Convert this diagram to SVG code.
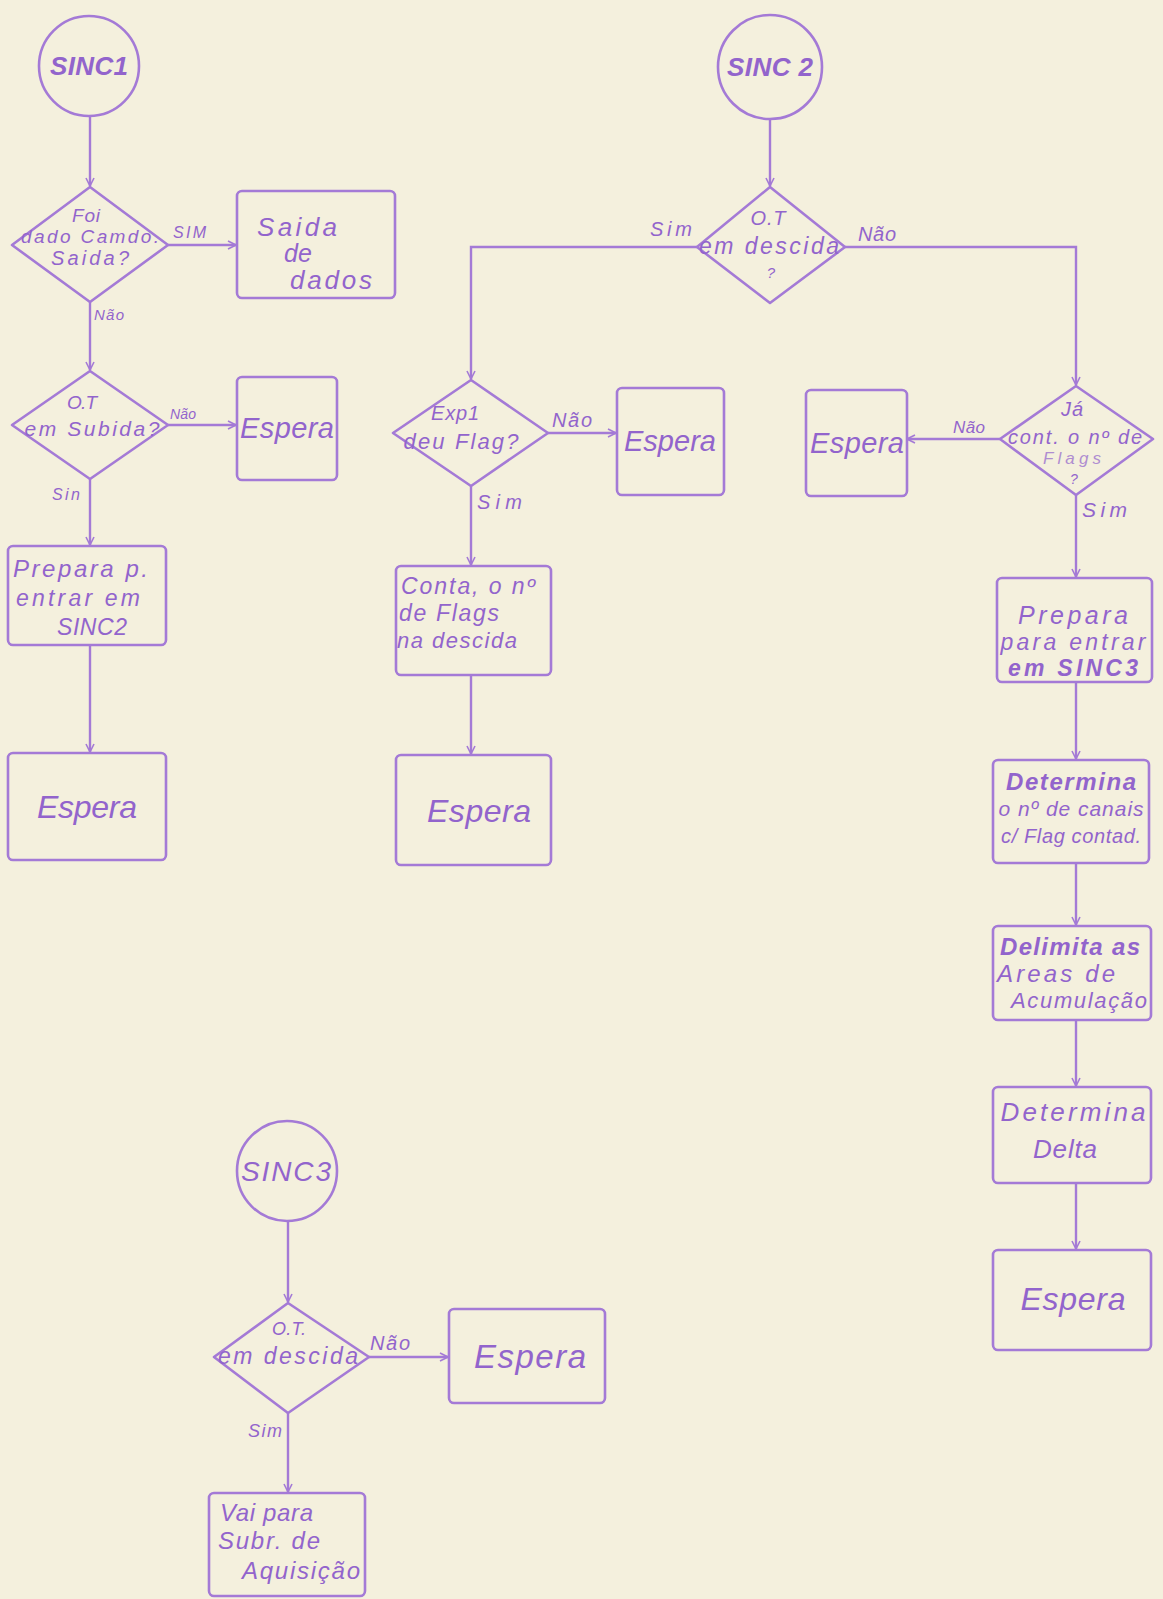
<svg xmlns="http://www.w3.org/2000/svg" width="1163" height="1599" viewBox="0 0 1163 1599">
<defs>
<style>
.bg{fill:#f4f0dd}
.s{fill:none;stroke:#a47ad6;stroke-width:2.6;stroke-linejoin:round;stroke-linecap:round}
.c{fill:none;stroke:#a47ad6;stroke-width:2.4}
.t{font-family:"Liberation Sans",Arial,sans-serif;font-style:italic;fill:#9264cc}
.m{text-anchor:middle}
.b{font-weight:bold}
</style>
<marker id="ah" viewBox="0 0 10 10" refX="9" refY="5" markerWidth="10" markerHeight="10" markerUnits="userSpaceOnUse" orient="auto">
<path d="M1,1 L9,5 L1,9" fill="none" stroke="#a47ad6" stroke-width="1.6"/>
</marker>
</defs>
<rect class="bg" x="0" y="0" width="1163" height="1599"/>

<g id="connectors">
<path class="c" d="M90,116 V186" marker-end="url(#ah)"/>
<path class="c" d="M168,245 H236" marker-end="url(#ah)"/>
<path class="c" d="M90,302 V370" marker-end="url(#ah)"/>
<path class="c" d="M168,425 H236" marker-end="url(#ah)"/>
<path class="c" d="M90,479 V545" marker-end="url(#ah)"/>
<path class="c" d="M90,645 V752" marker-end="url(#ah)"/>
<path class="c" d="M770,120 V186" marker-end="url(#ah)"/>
<path class="c" d="M697,247 H471 V379" marker-end="url(#ah)"/>
<path class="c" d="M548,433 H616" marker-end="url(#ah)"/>
<path class="c" d="M471,486 V565" marker-end="url(#ah)"/>
<path class="c" d="M471,675 V754" marker-end="url(#ah)"/>
<path class="c" d="M845,247 H1076 V385" marker-end="url(#ah)"/>
<path class="c" d="M1000,439 H907" marker-end="url(#ah)"/>
<path class="c" d="M1076,495 V577" marker-end="url(#ah)"/>
<path class="c" d="M1076,682 V759" marker-end="url(#ah)"/>
<path class="c" d="M1076,863 V925" marker-end="url(#ah)"/>
<path class="c" d="M1076,1020 V1086" marker-end="url(#ah)"/>
<path class="c" d="M1076,1183 V1249" marker-end="url(#ah)"/>
<path class="c" d="M288,1221 V1302" marker-end="url(#ah)"/>
<path class="c" d="M369,1357 H448" marker-end="url(#ah)"/>
<path class="c" d="M288,1413 V1492" marker-end="url(#ah)"/>
</g>

<g id="labels">
<text class="t" x="173" y="238" font-size="16" textLength="33">SIM</text>
<text class="t" x="94" y="320" font-size="15" textLength="30">Não</text>
<text class="t" x="170" y="419" font-size="14" textLength="26">Não</text>
<text class="t" x="52" y="500" font-size="16" textLength="28">Sin</text>
<text class="t" x="650" y="236" font-size="20" textLength="42">Sim</text>
<text class="t" x="858" y="241" font-size="20" textLength="38">Não</text>
<text class="t" x="552" y="427" font-size="20" textLength="40">Não</text>
<text class="t" x="477" y="509" font-size="20" textLength="45">Sim</text>
<text class="t" x="953" y="433" font-size="17" textLength="32">Não</text>
<text class="t" x="1082" y="517" font-size="21" textLength="45">Sim</text>
<text class="t" x="370" y="1350" font-size="20" textLength="40">Não</text>
<text class="t" x="248" y="1437" font-size="18" textLength="34">Sim</text>
</g>

<g id="sinc1">
<circle class="s" cx="89" cy="66" r="50"/>
<text class="t m b" x="89" y="75" font-size="26" textLength="78">SINC1</text>
</g>
<g id="d1">
<path class="s" d="M90,187 L168,245 L90,302 L12,245 Z"/>
<text class="t m" x="86" y="222" font-size="19" textLength="28">Foi</text>
<text class="t m" x="90" y="243" font-size="19" textLength="138">dado Camdo.</text>
<text class="t m" x="90" y="265" font-size="20" textLength="78">Saida?</text>
</g>
<g id="saida">
<rect class="s" x="237" y="191" width="158" height="107" rx="5"/>
<text class="t" x="257" y="236" font-size="26" textLength="80">Saida</text>
<text class="t" x="284" y="262" font-size="25" textLength="28">de</text>
<text class="t" x="290" y="289" font-size="26" textLength="82">dados</text>
</g>
<g id="d2">
<path class="s" d="M90,371 L168,425 L90,479 L12,425 Z"/>
<text class="t m" x="82" y="409" font-size="19" textLength="30">O.T</text>
<text class="t m" x="92" y="436" font-size="21" textLength="135">em Subida?</text>
</g>
<g id="espera1">
<rect class="s" x="237" y="377" width="100" height="103" rx="5"/>
<text class="t m" x="287" y="438" font-size="29" textLength="94">Espera</text>
</g>
<g id="prepara1">
<rect class="s" x="8" y="546" width="158" height="99" rx="5"/>
<text class="t" x="13" y="577" font-size="24" textLength="135">Prepara p.</text>
<text class="t" x="16" y="606" font-size="23" textLength="124">entrar em</text>
<text class="t" x="57" y="635" font-size="23" textLength="70">SINC2</text>
</g>
<g id="espera2">
<rect class="s" x="8" y="753" width="158" height="107" rx="5"/>
<text class="t m" x="87" y="818" font-size="32" textLength="100">Espera</text>
</g>

<g id="sinc2">
<circle class="s" cx="770" cy="67" r="52"/>
<text class="t m b" x="770" y="76" font-size="26" textLength="86">SINC 2</text>
</g>
<g id="d3">
<path class="s" d="M770,187 L845,247 L770,303 L697,247 Z"/>
<text class="t m" x="768" y="225" font-size="20" textLength="35">O.T</text>
<text class="t m" x="769" y="254" font-size="23" textLength="140">em descida</text>
<text class="t m" x="771" y="278" font-size="15">?</text>
</g>
<g id="d4">
<path class="s" d="M471,380 L548,433 L471,486 L393,433 Z"/>
<text class="t m" x="455" y="420" font-size="20" textLength="48">Exp1</text>
<text class="t m" x="461" y="449" font-size="22" textLength="115">deu Flag?</text>
</g>
<g id="espera3">
<rect class="s" x="617" y="388" width="107" height="107" rx="5"/>
<text class="t m" x="670" y="451" font-size="29" textLength="92">Espera</text>
</g>
<g id="conta">
<rect class="s" x="396" y="566" width="155" height="109" rx="5"/>
<text class="t" x="401" y="594" font-size="23" textLength="134">Conta, o nº</text>
<text class="t" x="399" y="621" font-size="23" textLength="100">de Flags</text>
<text class="t" x="397" y="648" font-size="22" textLength="120">na descida</text>
</g>
<g id="espera4">
<rect class="s" x="396" y="755" width="155" height="110" rx="5"/>
<text class="t m" x="479" y="822" font-size="32" textLength="104">Espera</text>
</g>

<g id="d5">
<path class="s" d="M1076,386 L1153,439 L1076,495 L1000,439 Z"/>
<text class="t m" x="1072" y="416" font-size="20" textLength="22">Já</text>
<text class="t m" x="1075" y="444" font-size="20" textLength="134">cont. o nº de</text>
<text class="t m" x="1072" y="464" font-size="17" textLength="58" opacity="0.7">Flags</text>
<text class="t m" x="1074" y="484" font-size="14">?</text>
</g>
<g id="espera5">
<rect class="s" x="806" y="390" width="101" height="106" rx="5"/>
<text class="t m" x="857" y="453" font-size="29" textLength="94">Espera</text>
</g>
<g id="prepara2">
<rect class="s" x="997" y="578" width="155" height="104" rx="5"/>
<text class="t m" x="1073" y="624" font-size="25" textLength="110">Prepara</text>
<text class="t m" x="1073" y="650" font-size="23" textLength="145">para entrar</text>
<text class="t m b" x="1073" y="676" font-size="23" textLength="130">em SINC3</text>
</g>
<g id="determina1">
<rect class="s" x="993" y="760" width="156" height="103" rx="5"/>
<text class="t m b" x="1071" y="790" font-size="24" textLength="130">Determina</text>
<text class="t m" x="1071" y="816" font-size="21" textLength="145">o nº de canais</text>
<text class="t m" x="1071" y="843" font-size="20" textLength="140">c/ Flag contad.</text>
</g>
<g id="delimita">
<rect class="s" x="993" y="926" width="158" height="94" rx="5"/>
<text class="t m b" x="1070" y="955" font-size="24" textLength="140">Delimita as</text>
<text class="t m" x="1056" y="982" font-size="24" textLength="118">Areas de</text>
<text class="t m" x="1079" y="1008" font-size="22" textLength="136">Acumulação</text>
</g>
<g id="determina2">
<rect class="s" x="993" y="1087" width="158" height="96" rx="5"/>
<text class="t m" x="1073" y="1121" font-size="26" textLength="145">Determina</text>
<text class="t m" x="1065" y="1158" font-size="26" textLength="64">Delta</text>
</g>
<g id="espera6">
<rect class="s" x="993" y="1250" width="158" height="100" rx="5"/>
<text class="t m" x="1073" y="1310" font-size="32" textLength="105">Espera</text>
</g>

<g id="sinc3">
<circle class="s" cx="287" cy="1171" r="50"/>
<text class="t m" x="286" y="1181" font-size="28" textLength="90">SINC3</text>
</g>
<g id="d6">
<path class="s" d="M288,1303 L369,1357 L288,1413 L214,1357 Z"/>
<text class="t m" x="289" y="1335" font-size="18" textLength="34">O.T.</text>
<text class="t m" x="288" y="1364" font-size="23" textLength="140">em descida</text>
</g>
<g id="espera7">
<rect class="s" x="449" y="1309" width="156" height="94" rx="5"/>
<text class="t m" x="530" y="1368" font-size="33" textLength="112">Espera</text>
</g>
<g id="vaipara">
<rect class="s" x="209" y="1493" width="156" height="103" rx="5"/>
<text class="t" x="220" y="1521" font-size="24" textLength="93">Vai para</text>
<text class="t" x="218" y="1549" font-size="24" textLength="102">Subr. de</text>
<text class="t" x="242" y="1579" font-size="24" textLength="118">Aquisição</text>
</g>
</svg>
